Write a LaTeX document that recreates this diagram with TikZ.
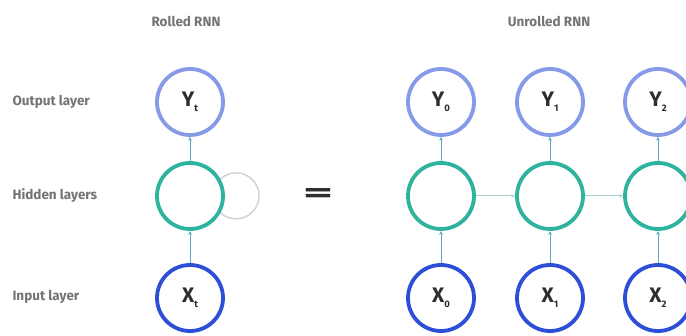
\documentclass[tikz,border=0pt]{standalone}
\usepackage{fontspec}
\setmainfont{Fira Sans}
\usetikzlibrary{arrows.meta}
\definecolor{ycol}{HTML}{879AE8}
\definecolor{hcol}{HTML}{2DB39E}
\definecolor{xcol}{HTML}{2D4FD8}
\definecolor{loopcol}{HTML}{C9D3D3}
\definecolor{arrcol}{HTML}{5AA9C8}
\definecolor{harrcol}{HTML}{A8CFCF}
\definecolor{txtcol}{HTML}{747474}
\definecolor{lblcol}{HTML}{2E2E2E}
\newcommand{\nodelab}[2]{{\bfseries\fontsize{21}{21}\selectfont #1}\raisebox{-5pt}{\bfseries\fontsize{9.5}{9.5}\selectfont #2}}
\begin{document}
\begin{tikzpicture}[x=1pt,y=1pt,
  ring/.style={circle,minimum size=66pt,inner sep=0pt,line width=3.8pt,fill=white,text=lblcol},
  yring/.style={ring,draw=ycol},
  hring/.style={ring,draw=hcol},
  xring/.style={ring,draw=xcol},
  uparr/.style={draw=arrcol,line width=0.8pt,-{Stealth[length=4pt,width=3.5pt]}},
  sidearr/.style={draw=harrcol,line width=1pt,-{Stealth[length=4pt,width=3.5pt]}},
  rowlabel/.style={anchor=west,text=txtcol,font=\bfseries\fontsize{13.5}{16}\selectfont},
  title/.style={text=txtcol,font=\bfseries\fontsize{13.5}{16}\selectfont}]
\useasboundingbox (0,0) rectangle (686,335);
\fill[white] (0,0) rectangle (686,335);
% titles
\node[title] (t1) at (186,314) {Rolled RNN};
\node[title] (t2) at (549,314) {Unrolled RNN};
% row labels
\node[rowlabel] (l1) at (9,233) {Output layer};
\node[rowlabel] (l2) at (9,139) {Hidden layers};
\node[rowlabel] (l3) at (9,38) {Input layer};
% rolled loop (behind)
\draw[loopcol,line width=1.4pt] (219.8,155.4) arc[start angle=135,end angle=-135,radius=23];
% rolled nodes
\node[yring] (yt) at (190,233) {\nodelab{Y}{t}};
\node[hring] (ht) at (190,139) {};
\node[xring] (xt) at (190,37) {\nodelab{X}{t}};
\draw[uparr] (ht) -- (yt);
\draw[uparr] (xt) -- (ht);
% equals
\node[text=lblcol] (eq) at (318,139) {\resizebox{30pt}{14pt}{\bfseries =}};
% unrolled
\foreach \i/\xx in {0/441,1/550,2/658}{
  \node[yring] (y\i) at (\xx,233) {\nodelab{Y}{\i}};
  \node[hring] (h\i) at (\xx,139) {};
  \node[xring] (x\i) at (\xx,37) {\nodelab{X}{\i}};
  \draw[uparr] (h\i) -- (y\i);
  \draw[uparr] (x\i) -- (h\i);
}
\draw[sidearr] (h0) -- (h1);
\draw[sidearr] (h1) -- (h2);
\end{tikzpicture}
\end{document}
